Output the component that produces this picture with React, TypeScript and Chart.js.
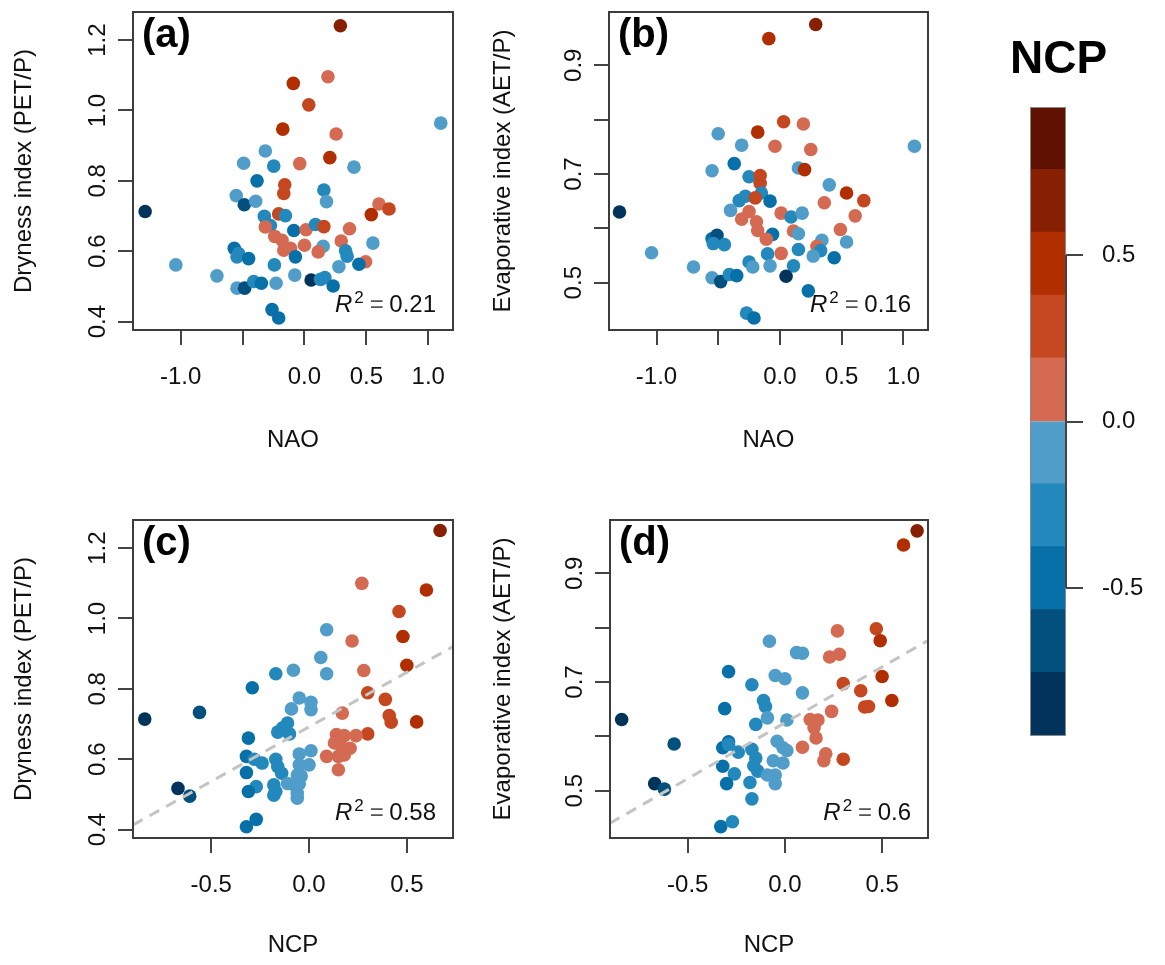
import React, { useEffect, useRef } from 'react';
import { Chart, registerables } from 'chart.js';
Chart.register(...registerables);

const FONT = '"Liberation Sans", Arial, Helvetica, sans-serif';

// NCP colour classes (dark blue -> dark red)
const NCP_COLORS = ['#02345b', '#03507e', '#0770a8', '#2388bb', '#4f9dc8', '#d46a52', '#c5471f', '#b02e00', '#872002', '#5f1100'];
const NCP_BREAKS = [-0.945, -0.756, -0.567, -0.378, -0.189, 0, 0.189, 0.378, 0.567, 0.756, 0.945];
const COLORBAR_TICKS = [-0.5, 0, 0.5];

// Panel (a): NAO vs Dryness index
const naoA = [0.29, 0.19, -0.09, 0.035, -0.175, 0.256, 1.101, -0.316, 0.205, -0.038, 0.40, -0.491, -0.248, -0.383, -0.159, -0.167, 0.157, 0.178, 0.602, 0.683, 0.540, -1.287, -0.551, -0.486, -0.394, -0.208, -0.154, -0.324, -0.275, -0.316, -0.086, 0.013, 0.089, 0.157, 0.364, -0.240, -0.181, 0.0, -0.167, -0.113, 0.151, 0.111, 0.297, 0.553, 0.332, 0.345, -0.073, -0.567, -0.532, -0.545, -0.451, -1.039, -0.243, 0.278, 0.494, 0.440, -0.707, -0.545, -0.483, -0.410, -0.348, -0.229, -0.078, 0.054, 0.130, 0.165, 0.232, -0.262, -0.208];
const dryA = [1.241, 1.096, 1.077, 1.016, 0.947, 0.933, 0.964, 0.885, 0.866, 0.849, 0.839, 0.850, 0.842, 0.800, 0.789, 0.764, 0.774, 0.741, 0.734, 0.720, 0.704, 0.713, 0.758, 0.732, 0.742, 0.706, 0.701, 0.699, 0.673, 0.669, 0.659, 0.661, 0.676, 0.670, 0.664, 0.642, 0.631, 0.617, 0.603, 0.608, 0.614, 0.598, 0.629, 0.623, 0.601, 0.586, 0.584, 0.608, 0.593, 0.584, 0.579, 0.561, 0.561, 0.556, 0.570, 0.563, 0.530, 0.495, 0.495, 0.514, 0.509, 0.509, 0.532, 0.518, 0.520, 0.525, 0.501, 0.434, 0.410];
const clsA = [8, 5, 7, 6, 7, 5, 4, 4, 7, 5, 4, 4, 3, 2, 6, 6, 3, 4, 5, 6, 7, 0, 4, 1, 4, 6, 3, 3, 3, 5, 2, 5, 3, 6, 5, 5, 5, 5, 5, 5, 4, 5, 5, 4, 3, 3, 2, 2, 3, 3, 2, 4, 3, 4, 5, 2, 4, 4, 1, 3, 2, 4, 4, 0, 3, 3, 2, 2, 2];

// Panel (b): NAO vs Evaporative index
const naoB = [0.29, -0.09, 0.03, 0.19, -0.18, -0.50, -0.04, -0.31, 0.25, 1.09, -0.37, -0.55, 0.15, 0.20, -0.25, -0.16, -0.16, 0.40, -0.15, 0.54, 0.68, 0.36, -0.33, -0.28, -0.20, -0.08, -1.30, -0.40, -0.25, 0.01, 0.09, 0.18, -0.31, -0.19, -0.18, 0.61, 0.49, 0.11, 0.15, -0.06, -0.11, -0.55, -0.51, -0.54, -0.45, 0.34, 0.54, 0.30, 0.15, 0.33, 0.01, -0.10, 0.27, 0.44, -1.04, -0.25, -0.22, -0.08, 0.11, -0.70, -0.55, -0.48, -0.41, -0.35, 0.05, 0.23, -0.27, -0.21];
const evapB = [0.975, 0.949, 0.796, 0.792, 0.777, 0.774, 0.751, 0.753, 0.745, 0.751, 0.719, 0.706, 0.711, 0.708, 0.695, 0.697, 0.683, 0.680, 0.665, 0.665, 0.651, 0.647, 0.651, 0.659, 0.656, 0.650, 0.630, 0.633, 0.631, 0.628, 0.621, 0.628, 0.617, 0.612, 0.596, 0.623, 0.598, 0.595, 0.590, 0.589, 0.580, 0.581, 0.587, 0.572, 0.570, 0.578, 0.575, 0.567, 0.561, 0.559, 0.554, 0.553, 0.549, 0.546, 0.555, 0.538, 0.529, 0.531, 0.531, 0.529, 0.509, 0.502, 0.515, 0.513, 0.512, 0.485, 0.444, 0.435];
const clsB = [8, 7, 6, 5, 7, 4, 5, 4, 5, 4, 2, 4, 4, 7, 3, 6, 6, 4, 3, 7, 6, 5, 3, 3, 6, 2, 0, 4, 5, 5, 3, 4, 5, 5, 5, 5, 5, 5, 4, 2, 5, 2, 1, 3, 3, 4, 4, 5, 3, 3, 5, 3, 4, 2, 4, 3, 4, 4, 3, 4, 4, 1, 3, 2, 0, 2, 3, 2];

// Panel (c): NCP vs Dryness index
const ncpC = [0.67, 0.27, 0.60, 0.46, 0.48, 0.09, 0.22, 0.06, 0.09, 0.50, 0.28, -0.17, -0.08, -0.29, 0.30, -0.05, 0.01, -0.09, 0.01, 0.39, 0.17, -0.56, -0.84, 0.41, 0.42, 0.55, -0.11, -0.16, -0.10, -0.135, -0.31, 0.30, 0.14, 0.18, 0.24, 0.13, 0.16, 0.21, -0.05, 0.01, 0.09, 0.15, 0.18, -0.32, -0.28, -0.24, -0.32, -0.17, -0.16, -0.14, -0.05, 0.00, 0.15, -0.06, -0.04, -0.11, -0.07, -0.05, -0.18, -0.17, -0.18, -0.06, -0.06, -0.27, -0.31, -0.67, -0.61, -0.27, -0.32];
const dryC = [1.250, 1.100, 1.081, 1.020, 0.949, 0.968, 0.936, 0.889, 0.843, 0.867, 0.852, 0.843, 0.853, 0.803, 0.789, 0.774, 0.762, 0.743, 0.741, 0.770, 0.731, 0.733, 0.714, 0.724, 0.705, 0.706, 0.703, 0.677, 0.672, 0.689, 0.660, 0.672, 0.670, 0.667, 0.667, 0.646, 0.641, 0.631, 0.615, 0.624, 0.608, 0.608, 0.612, 0.608, 0.600, 0.589, 0.562, 0.600, 0.579, 0.560, 0.584, 0.584, 0.570, 0.555, 0.552, 0.531, 0.524, 0.530, 0.527, 0.508, 0.498, 0.503, 0.489, 0.522, 0.508, 0.517, 0.495, 0.429, 0.408];
const clsC = [8, 5, 7, 6, 7, 4, 5, 4, 4, 7, 5, 3, 4, 2, 6, 4, 4, 4, 4, 6, 5, 1, 0, 6, 6, 7, 3, 3, 3, 3, 2, 6, 5, 5, 5, 5, 5, 5, 4, 4, 5, 5, 5, 2, 3, 3, 2, 3, 3, 3, 4, 4, 5, 4, 4, 4, 4, 4, 3, 3, 3, 4, 4, 3, 2, 0, 1, 2, 2];

// Panel (d): NCP vs Evaporative index
const ncpD = [0.68, 0.61, 0.27, 0.47, 0.49, -0.08, 0.06, 0.09, 0.23, 0.28, -0.29, -0.05, 0.00, 0.50, -0.17, 0.30, 0.09, 0.39, -0.11, -0.10, 0.41, 0.43, 0.55, -0.31, 0.24, -0.09, 0.01, -0.15, 0.13, 0.17, 0.15, 0.16, -0.84, -0.57, -0.29, -0.32, -0.29, -0.24, -0.17, -0.15, -0.04, -0.01, 0.01, 0.09, -0.06, -0.01, 0.21, 0.20, 0.30, -0.32, -0.26, -0.16, -0.14, -0.09, -0.05, -0.05, -0.30, -0.18, -0.17, -0.67, -0.62, -0.33, -0.27];
const evapD = [0.978, 0.952, 0.794, 0.798, 0.776, 0.775, 0.754, 0.753, 0.746, 0.751, 0.719, 0.712, 0.706, 0.710, 0.695, 0.697, 0.680, 0.684, 0.666, 0.655, 0.654, 0.655, 0.666, 0.651, 0.646, 0.634, 0.630, 0.622, 0.631, 0.630, 0.616, 0.597, 0.631, 0.586, 0.590, 0.579, 0.585, 0.571, 0.576, 0.560, 0.591, 0.579, 0.574, 0.580, 0.555, 0.551, 0.568, 0.555, 0.558, 0.545, 0.531, 0.546, 0.536, 0.529, 0.529, 0.513, 0.513, 0.515, 0.485, 0.513, 0.503, 0.434, 0.443];
const clsD = [8, 7, 5, 6, 7, 4, 4, 4, 5, 5, 2, 4, 4, 7, 3, 6, 4, 6, 3, 3, 6, 6, 7, 2, 5, 4, 4, 3, 5, 5, 5, 5, 0, 1, 2, 2, 3, 3, 3, 3, 4, 4, 4, 5, 4, 4, 5, 5, 6, 2, 3, 3, 3, 4, 4, 4, 2, 3, 3, 0, 1, 2, 3];

// Fitted regression lines and R² values
const FIT_C = { intercept: 0.692, slope: 0.31 };
const FIT_D = { intercept: 0.625, slope: 0.2055 };
const R2_LABELS = ['0.21', '0.16', '0.58', '0.6'];

// Axis ticks
const NAO_TICKS = [-1, -0.5, 0, 0.5, 1];
const NAO_LABELED = [-1, 0, 0.5, 1];
const NCP_TICKS = [-0.5, 0, 0.5];
const DRY_TICKS = [0.4, 0.6, 0.8, 1.0, 1.2];
const EVAP_TICKS = [0.5, 0.6, 0.7, 0.8, 0.9];
const EVAP_LABELED = [0.5, 0.7, 0.9];

const NAO_RANGE = [-1.385, 1.2];
const NCP_RANGE = [-0.9, 0.736];
const DRY_RANGE = [0.376, 1.28];
const EVAP_RANGE = [0.413, 0.998];

const has = (arr: number[], v: number) => arr.some((a) => Math.abs(a - v) < 1e-6);

type PanelCfg = {
  tag: string; r2: string;
  x: number[]; y: number[]; cls: number[];
  xRange: number[]; yRange: number[];
  xTicks: number[]; xLabeled: number[]; yTicks: number[]; yLabeled: number[];
  xTitle: string; yTitle: string;
  fit?: { intercept: number; slope: number };
  left: number; top: number; W: number; H: number;
  box: { l: number; t: number; r: number; b: number };
  yTitlePad: number; xTitlePad: number;
};

const TEXT = '#111';
const AXIS = '#444';

function ScatterPanel({ cfg }: { cfg: PanelCfg }) {
  const ref = useRef<HTMLCanvasElement>(null);
  useEffect(() => {
    const c = cfg;
    const points = c.x.map((v, i) => ({ x: v, y: c.y[i] }));
    const colors = c.cls.map((k) => NCP_COLORS[k]);
    const datasets: any[] = [
      {
        type: 'scatter', data: points, backgroundColor: colors, borderColor: colors, borderWidth: 0,
        pointRadius: 6.8, pointHoverRadius: 6.8, pointBorderWidth: 0, order: 2,
      },
    ];
    if (c.fit) {
      const f = c.fit;
      datasets.push({
        type: 'line',
        data: [
          { x: c.xRange[0], y: f.intercept + f.slope * c.xRange[0] },
          { x: c.xRange[1], y: f.intercept + f.slope * c.xRange[1] },
        ],
        borderColor: '#c4c4c4', borderWidth: 3, borderDash: [11, 8], pointRadius: 0,
        fill: false, order: 1,
      });
    }
    const decor = {
      id: 'decor',
      afterDraw(chart: any) {
        const { ctx, chartArea: a } = chart;
        ctx.save();
        ctx.strokeStyle = '#3c3c3c';
        ctx.lineWidth = 2;
        ctx.strokeRect(a.left, a.top, a.right - a.left, a.bottom - a.top);
        ctx.fillStyle = '#000';
        ctx.textAlign = 'left';
        ctx.textBaseline = 'alphabetic';
        ctx.font = `bold 40px ${FONT}`;
        ctx.fillText(c.tag, a.left + 9, a.top + 35);
        // R² annotation
        const base = a.bottom - 18;
        const right = a.right - 17;
        ctx.font = `24px ${FONT}`;
        const wVal = ctx.measureText(c.r2).width;
        const wEq = ctx.measureText('=').width;
        ctx.font = `17px ${FONT}`;
        const wSup = ctx.measureText('2').width;
        ctx.font = `italic 24px ${FONT}`;
        const wR = ctx.measureText('R').width;
        const valL = right - wVal;
        const eqL = valL - 5.5 - wEq;
        const supL = eqL - 6 - wSup;
        const rL = supL - 2 - wR;
        ctx.fillStyle = '#111';
        ctx.fillText('R', rL, base);
        ctx.font = `17px ${FONT}`;
        ctx.fillText('2', supL, base - 9);
        ctx.font = `24px ${FONT}`;
        ctx.fillStyle = '#555';
        ctx.fillText('=', eqL, base);
        ctx.fillStyle = '#111';
        ctx.fillText(c.r2, valL, base);
        ctx.restore();
      },
    };
    const chart = new Chart(ref.current as HTMLCanvasElement, {
      type: 'scatter',
      data: { datasets },
      options: {
        animation: false,
        responsive: false,
        devicePixelRatio: 1,
        layout: { padding: { left: 0, top: c.box.t, right: c.W - c.box.r, bottom: 0 } },
        plugins: { legend: { display: false }, tooltip: { enabled: false } },
        scales: {
          x: {
            type: 'linear', position: 'bottom', min: c.xRange[0], max: c.xRange[1],
            afterBuildTicks: (s: any) => { s.ticks = c.xTicks.map((v) => ({ value: v })); },
            afterFit: (s: any) => { s.height = c.H - c.box.b; s.paddingLeft = 0; s.paddingRight = 0; s.paddingTop = 0; s.paddingBottom = 0; },
            grid: { drawOnChartArea: false, drawTicks: true, tickLength: 15, color: AXIS, lineWidth: 2 },
            border: { display: false },
            ticks: {
              autoSkip: false, maxRotation: 0, minRotation: 0, padding: 18, color: TEXT,
              font: { size: 24, family: FONT },
              callback: (v: any) => (has(c.xLabeled, Number(v)) ? Number(v).toFixed(1) : ''),
            },
            title: { display: true, text: c.xTitle, color: TEXT, font: { size: 24, family: FONT }, padding: { top: 0, bottom: c.xTitlePad } },
          },
          y: {
            type: 'linear', position: 'left', min: c.yRange[0], max: c.yRange[1],
            afterBuildTicks: (s: any) => { s.ticks = c.yTicks.map((v) => ({ value: v })); },
            afterFit: (s: any) => { s.width = c.box.l; s.paddingTop = 0; s.paddingBottom = 0; s.paddingLeft = 0; s.paddingRight = 0; },
            grid: { drawOnChartArea: false, drawTicks: true, tickLength: 15, color: AXIS, lineWidth: 2 },
            border: { display: false },
            ticks: {
              autoSkip: false, minRotation: 90, maxRotation: 90, crossAlign: 'center', padding: 3, color: TEXT,
              font: { size: 24, family: FONT },
              callback: (v: any) => (has(c.yLabeled, Number(v)) ? Number(v).toFixed(1) : ''),
            },
            title: { display: true, text: c.yTitle, color: TEXT, font: { size: 24, family: FONT }, padding: { top: c.yTitlePad, bottom: 0 } },
          },
        },
      } as any,
      plugins: [decor],
    });
    return () => chart.destroy();
  }, [cfg]);
  return (
    <canvas
      ref={ref}
      width={cfg.W}
      height={cfg.H}
      style={{ position: 'absolute', left: cfg.left, top: cfg.top, width: cfg.W, height: cfg.H }}
    />
  );
}

function ColorBar() {
  const ref = useRef<HTMLCanvasElement>(null);
  useEffect(() => {
    const datasets = NCP_COLORS.map((col, i) => ({
      data: [[NCP_BREAKS[i], NCP_BREAKS[i + 1]]],
      backgroundColor: col,
      borderWidth: 0,
      inflateAmount: 1,
      grouped: false,
      barPercentage: 1,
      categoryPercentage: 1,
    }));
    const decor = {
      id: 'cbdecor',
      afterDraw(chart: any) {
        const { ctx, chartArea: a, scales } = chart;
        const y = scales.y;
        ctx.save();
        ctx.strokeStyle = '#8a8a8a';
        ctx.lineWidth = 1;
        ctx.strokeRect(a.left + 0.5, a.top + 0.5, a.right - a.left - 1, a.bottom - a.top - 1);
        ctx.strokeStyle = AXIS;
        ctx.lineWidth = 2;
        ctx.beginPath();
        ctx.moveTo(a.right, y.getPixelForValue(COLORBAR_TICKS[COLORBAR_TICKS.length - 1]));
        ctx.lineTo(a.right, y.getPixelForValue(COLORBAR_TICKS[0]));
        ctx.stroke();
        ctx.fillStyle = '#000';
        ctx.font = `bold 46px ${FONT}`;
        ctx.textAlign = 'left';
        ctx.textBaseline = 'alphabetic';
        ctx.fillText('NCP', 70, 73);
        ctx.restore();
      },
    };
    const chart = new Chart(ref.current as HTMLCanvasElement, {
      type: 'bar',
      data: { labels: ['NCP'], datasets },
      options: {
        animation: false,
        responsive: false,
        devicePixelRatio: 1,
        layout: { padding: { left: 90, top: 107, right: 0, bottom: 24 } },
        plugins: { legend: { display: false }, tooltip: { enabled: false } },
        scales: {
          x: { display: false },
          y: {
            position: 'right', min: NCP_BREAKS[0], max: NCP_BREAKS[NCP_BREAKS.length - 1],
            afterBuildTicks: (s: any) => { s.ticks = COLORBAR_TICKS.map((v) => ({ value: v })); },
            afterFit: (s: any) => { s.width = 99; s.paddingTop = 0; s.paddingBottom = 0; },
            grid: { drawOnChartArea: false, drawTicks: true, tickLength: 17, color: AXIS, lineWidth: 2 },
            border: { display: false },
            ticks: { autoSkip: false, padding: 19, color: TEXT, font: { size: 24, family: FONT }, callback: (v: any) => Number(v).toFixed(1) },
          },
        },
      } as any,
      plugins: [decor],
    });
    return () => chart.destroy();
  }, []);
  return <canvas ref={ref} width={225} height={760} style={{ position: 'absolute', left: 940, top: 0, width: 225, height: 760 }} />;
}

const DRY_TITLE = 'Dryness index (PET/P)';
const EVAP_TITLE = 'Evaporative index (AET/P)';

const PANELS: PanelCfg[] = [
  {
    tag: '(a)', r2: R2_LABELS[0], x: naoA, y: dryA, cls: clsA, xRange: NAO_RANGE, yRange: DRY_RANGE,
    xTicks: NAO_TICKS, xLabeled: NAO_LABELED, yTicks: DRY_TICKS, yLabeled: DRY_TICKS,
    xTitle: 'NAO', yTitle: DRY_TITLE,
    left: 0, top: 0, W: 470, H: 470, box: { l: 133, t: 12, r: 453, b: 330 }, yTitlePad: 9.6, xTitlePad: 15.6,
  },
  {
    tag: '(b)', r2: R2_LABELS[1], x: naoB, y: evapB, cls: clsB, xRange: NAO_RANGE, yRange: EVAP_RANGE,
    xTicks: NAO_TICKS, xLabeled: NAO_LABELED, yTicks: EVAP_TICKS, yLabeled: EVAP_LABELED,
    xTitle: 'NAO', yTitle: EVAP_TITLE,
    left: 470, top: 0, W: 470, H: 470, box: { l: 139, t: 12, r: 458, b: 330 }, yTitlePad: 18.6, xTitlePad: 15.6,
  },
  {
    tag: '(c)', r2: R2_LABELS[2], x: ncpC, y: dryC, cls: clsC, xRange: NCP_RANGE, yRange: DRY_RANGE,
    xTicks: NCP_TICKS, xLabeled: NCP_TICKS, yTicks: DRY_TICKS, yLabeled: DRY_TICKS,
    xTitle: 'NCP', yTitle: DRY_TITLE, fit: FIT_C,
    left: 0, top: 470, W: 470, H: 495, box: { l: 133, t: 50, r: 453, b: 368 }, yTitlePad: 9.6, xTitlePad: 5.6,
  },
  {
    tag: '(d)', r2: R2_LABELS[3], x: ncpD, y: evapD, cls: clsD, xRange: NCP_RANGE, yRange: EVAP_RANGE,
    xTicks: NCP_TICKS, xLabeled: NCP_TICKS, yTicks: EVAP_TICKS, yLabeled: EVAP_LABELED,
    xTitle: 'NCP', yTitle: EVAP_TITLE, fit: FIT_D,
    left: 470, top: 470, W: 470, H: 495, box: { l: 140, t: 50, r: 458, b: 368 }, yTitlePad: 18.6, xTitlePad: 5.6,
  },
];

export default function App() {
  return (
    <div style={{ position: 'absolute', left: 0, top: 0, width: 1165, height: 965, background: '#fff', overflow: 'hidden' }}>
      {PANELS.map((p) => (
        <ScatterPanel key={p.tag} cfg={p} />
      ))}
      <ColorBar />
    </div>
  );
}
